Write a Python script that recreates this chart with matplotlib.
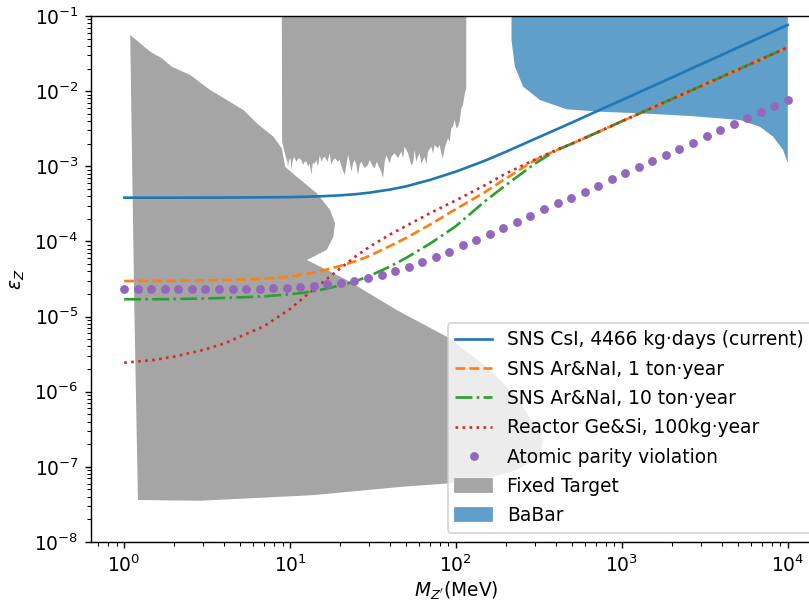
import matplotlib
matplotlib.use("Agg")
import matplotlib.pyplot as plt
import matplotlib.patches as mpatches
import numpy as np

mass = [1, 1.5, 2, 3, 4, 5, 7, 10, 12, 15, 20, 25, 30, 40, 50, 70, 100,
        150, 200, 300, 400, 500, 700, 1000, 2000, 5000, 10000]

sns_csi = [3.82e-4, 3.82e-4, 3.82e-4, 3.83e-4, 3.83e-4, 3.84e-4, 3.86e-4,
           3.89e-4, 3.92e-4, 3.98e-4, 4.1e-4, 4.26e-4, 4.45e-4, 4.9e-4,
           5.4e-4, 6.6e-4, 8.5e-4, 1.19e-3, 1.56e-3, 2.32e-3, 3.07e-3,
           3.82e-3, 5.35e-3, 7.6e-3, 1.52e-2, 3.8e-2, 7.6e-2]
sns_1ton = [2.97e-5, 2.98e-5, 2.99e-5, 3.02e-5, 3.06e-5, 3.09e-5, 3.18e-5,
            3.41e-5, 3.63e-5, 3.98e-5, 4.71e-5, 5.49e-5, 6.39e-5, 8.69e-5,
            1.11e-4, 1.68e-4, 2.70e-4, 4.55e-4, 6.88e-4, 1.213e-3, 1.62e-3,
            2.0e-3, 2.78e-3, 3.97e-3, 7.85e-3, 1.93e-2, 3.83e-2]
sns_10ton = [1.70e-5, 1.70e-5, 1.71e-5, 1.74e-5, 1.77e-5, 1.80e-5, 1.86e-5,
             1.98e-5, 2.07e-5, 2.24e-5, 2.59e-5, 2.97e-5, 3.46e-5, 4.63e-5,
             6.02e-5, 9.38e-5, 1.60e-4, 3.45e-4, 5.63e-4, 1.089e-3, 1.62e-3,
             2.0e-3, 2.78e-3, 3.97e-3, 7.85e-3, 1.93e-2, 3.83e-2]
reactor = [2.43e-6, 2.64e-6, 2.93e-6, 3.59e-6, 4.38e-6, 5.40e-6, 7.49e-6,
           1.26e-5, 1.77e-5, 2.63e-5, 4.36e-5, 6.39e-5, 8.43e-5, 1.237e-4,
           1.604e-4, 2.389e-4, 3.525e-4, 5.63e-4, 8.02e-4, 1.231e-3, 1.64e-3,
           2.0e-3, 2.78e-3, 3.97e-3, 7.85e-3, 1.93e-2, 3.83e-2]

# atomic parity violation, 50 log-spaced masses from 1 MeV to 10 GeV
apv_mass = np.logspace(0, 4, 50)
apv = [2.33e-5] * 10 + [
    2.35e-5, 2.38e-5, 2.42e-5, 2.50e-5, 2.57e-5, 2.71e-5, 2.82e-5, 3.00e-5,
    3.23e-5, 3.61e-5, 4.04e-5, 4.61e-5, 5.32e-5, 6.26e-5, 7.30e-5, 8.87e-5,
    1.045e-4, 1.256e-4, 1.51e-4, 1.82e-4, 2.21e-4, 2.67e-4, 3.21e-4, 3.82e-4,
    4.59e-4, 5.52e-4, 6.71e-4, 8.07e-4, 9.87e-4, 1.175e-3, 1.425e-3, 1.713e-3,
    2.06e-3, 2.51e-3, 3.04e-3, 3.62e-3, 4.40e-3, 5.28e-3, 6.34e-3, 7.62e-3]

# fixed target exclusion, low mass region (outline)
ft_low_m = [1.087, 1.434, 1.687, 1.938, 2.498, 3.297, 5.233, 6.30, 7.93,
            8.91, 9.33, 10.97, 14.49, 17.42, 18.66, 18.24, 16.63, 12.61,
            21.96, 43.95, 87.9, 153, 232, 292, 334, 321, 232, 153, 87.9,
            46.0, 13.8, 2.87, 1.21, 1.149]
ft_low_eps = [5.59e-2, 3.35e-2, 2.74e-2, 2.11e-2, 1.64e-2, 1.035e-2, 5.61e-3,
              3.73e-3, 2.48e-3, 1.73e-3, 9.87e-4, 7.26e-4, 4.37e-4, 2.62e-4,
              1.74e-4, 1.156e-4, 7.69e-5, 5.66e-5, 3.07e-5, 1.22e-5, 5.39e-6,
              2.15e-6, 8.59e-7, 3.8e-7, 2.27e-7, 1.36e-7, 9.1e-8, 7.0e-8,
              6.0e-8, 5.4e-8, 4.2e-8, 3.54e-8, 3.62e-8, 1.66e-5]

# fixed target exclusion, beam dump region (jagged lower edge, open to the top)
ft_dump_m = [8.91, 8.95, 9.20, 9.42, 9.64, 9.72, 9.86, 10.05, 10.19, 10.33,
             10.57, 10.92, 11.28, 11.70, 11.97, 12.26, 12.60, 12.84, 13.14,
             13.45, 13.69, 14.08, 14.41, 14.75, 15.09, 15.45, 15.81, 16.18,
             16.79, 17.34, 17.74, 18.16, 18.76, 19.28, 19.92, 20.38, 20.96,
             21.35, 21.84, 22.36, 22.88, 23.42, 23.96, 24.52, 25.09, 25.68,
             26.28, 26.90, 28.17, 29.50, 30.20, 31.62, 32.36, 33.27, 34.68,
             35.49, 36.33, 37.18, 38.05, 39.85, 40.78, 42.71, 44.73, 46.84,
             47.93, 49.05, 51.37, 53.80, 55.08, 56.36, 57.68, 59.03, 60.40,
             61.84, 63.28, 64.75, 66.27, 67.81, 71.02, 72.67, 74.38, 77.90,
             79.72, 81.57, 83.49, 85.43, 87.44, 89.47, 91.58, 93.74, 95.92,
             98.17, 100.5, 102.8, 105.2, 107.7, 110.2, 111.7, 113.8, 115.4,
             115.4]
ft_dump_eps = [0.2, 2.13e-3, 1.65e-3, 1.34e-3, 1.15e-3, 9.88e-4, 1.21e-3,
               1.28e-3, 8.92e-4, 1.15e-3, 1.34e-3, 1.15e-3, 1.28e-3, 1.21e-3,
               1.04e-3, 1.15e-3, 1.15e-3, 9.88e-4, 1.09e-3, 7.65e-4, 1.09e-3,
               1.09e-3, 1.21e-3, 9.88e-4, 1.41e-3, 1.15e-3, 1.28e-3, 1.34e-3,
               1.15e-3, 1.49e-3, 1.04e-3, 1.21e-3, 1.28e-3, 1.15e-3, 1.21e-3,
               9.88e-4, 8.48e-4, 7.65e-4, 1.04e-3, 1.41e-3, 1.15e-3, 8.48e-4,
               1.09e-3, 1.21e-3, 1.04e-3, 7.65e-4, 1.04e-3, 1.15e-3, 9.39e-4,
               1.04e-3, 1.21e-3, 9.88e-4, 9.39e-4, 1.15e-3, 9.39e-4, 8.48e-4,
               6.91e-4, 1.15e-3, 1.41e-3, 1.09e-3, 1.34e-3, 1.49e-3, 1.28e-3,
               1.56e-3, 1.28e-3, 1.82e-3, 1.49e-3, 1.04e-3, 1.09e-3, 1.65e-3,
               1.15e-3, 1.34e-3, 1.49e-3, 1.09e-3, 1.21e-3, 1.34e-3, 1.04e-3,
               1.56e-3, 1.82e-3, 1.49e-3, 1.92e-3, 1.73e-3, 1.92e-3, 1.49e-3,
               1.28e-3, 1.73e-3, 2.02e-3, 2.35e-3, 2.13e-3, 3.20e-3, 3.37e-3,
               4.13e-3, 3.20e-3, 3.37e-3, 3.93e-3, 5.90e-3, 6.54e-3, 8.02e-3,
               9.84e-3, 1.09e-2, 0.2]

# BaBar exclusion (lower edge, open to the top)
babar_m = [216, 216, 226.6, 254, 320.6, 464.7, 736, 1283, 2570, 5140, 6780,
           8150, 9370, 10000, 10000]
babar_eps = [0.2, 4.8e-2, 2.11e-2, 1.146e-2, 7.62e-3, 5.73e-3, 5.32e-3,
             5.07e-3, 4.67e-3, 4.13e-3, 3.36e-3, 2.48e-3, 1.65e-3, 1.1e-3, 0.2]

ft_color = "#a5a5a5"
babar_color = "#609fca"

plt.rcParams["font.size"] = 10.6

fig = plt.figure(figsize=(809 / 127, 601 / 127), dpi=127)
ax = fig.add_axes([0.1125, 0.0982, 0.9023, 0.8752])

ax.fill(ft_low_m, ft_low_eps, color=ft_color, lw=0, zorder=1)
ax.fill(ft_dump_m, ft_dump_eps, color=ft_color, lw=0, zorder=1)
ax.fill(babar_m, babar_eps, color=babar_color, lw=0, zorder=1)

h1, = ax.plot(mass, sns_csi, "-", color="C0", zorder=3)
h2, = ax.plot(mass, sns_1ton, "--", color="C1", zorder=3)
h3, = ax.plot(mass, sns_10ton, "-.", color="C2", zorder=3)
h4, = ax.plot(mass, reactor, ":", color="C3", zorder=3)
h5, = ax.plot(apv_mass, apv, "o", color="C4", ms=4, zorder=3)
h6 = mpatches.Patch(color=ft_color)
h7 = mpatches.Patch(color=babar_color)

ax.set_xscale("log")
ax.set_yscale("log")
ax.set_xlim(10 ** -0.2, 10 ** 4.2)
ax.set_ylim(1e-8, 1e-1)
ax.set_xlabel(r"$M_{Z'}$(MeV)", labelpad=2)
ax.set_ylabel(r"$\epsilon_Z$")

ax.legend([h1, h2, h3, h4, h5, h6, h7],
          ["SNS CsI, 4466 kg\u00b7days (current)",
           "SNS Ar&NaI, 1 ton\u00b7year",
           "SNS Ar&NaI, 10 ton\u00b7year",
           "Reactor Ge&Si, 100kg\u00b7year",
           "Atomic parity violation",
           "Fixed Target",
           "BaBar"],
          loc="lower right", labelspacing=0.55)

fig.savefig("out.png", dpi=127)
